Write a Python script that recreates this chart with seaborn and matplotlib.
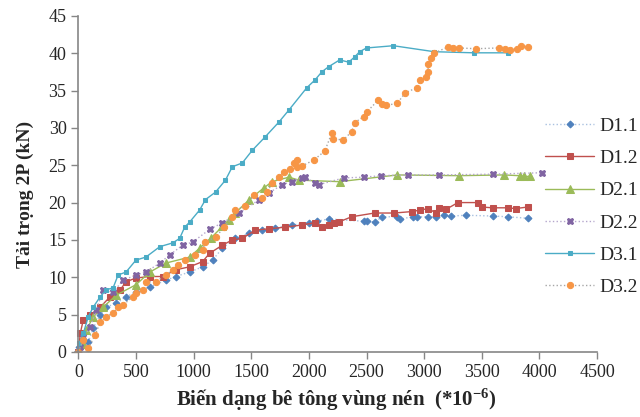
import matplotlib
matplotlib.use("Agg")
import matplotlib.pyplot as plt
import seaborn as sns
import pandas as pd

# strain (*10^-6) and load 2P (kN)
d11_x = [0, 9, 86, 129, 190, 241, 328, 414, 500, 621, 759, 845, 966, 1078, 1164, 1250, 1362, 1483,
         1595, 1707, 1853, 2000, 2069, 2172, 2474, 2500, 2569, 2638, 2767, 2793, 2905, 2940, 3034,
         3103, 3172, 3233, 3362, 3595, 3724, 3897]
d11_y = [0, 0.7, 1.3, 3.2, 5.0, 6.0, 6.5, 7.4, 8.0, 8.7, 9.6, 10.1, 10.7, 11.4, 12.3, 13.9, 15.2, 15.9,
         16.3, 16.6, 17.0, 17.3, 17.5, 17.8, 17.5, 17.5, 17.4, 18.1, 18.1, 17.8, 18.1, 18.1, 18.1,
         18.1, 18.3, 18.2, 18.3, 18.2, 18.1, 17.9]

d12_x = [0, 17, 43, 103, 190, 276, 362, 414, 500, 621, 733, 845, 966, 1078, 1138, 1250, 1336, 1422,
         1534, 1655, 1793, 1940, 2052, 2112, 2172, 2216, 2259, 2371, 2569, 2741, 2897, 2966, 3034,
         3103, 3129, 3190, 3293, 3466, 3500, 3595, 3724, 3793, 3897]
d12_y = [0, 2.5, 4.3, 4.9, 6.0, 7.4, 8.3, 9.4, 9.9, 10.1, 10.1, 11.0, 11.4, 12.1, 13.2, 14.3, 15.0, 15.2,
         16.3, 16.5, 16.7, 17.0, 17.3, 16.7, 17.0, 17.3, 17.4, 18.1, 18.6, 18.6, 18.8, 19.0, 19.2,
         18.6, 19.3, 19.1, 20.0, 20.0, 19.4, 19.3, 19.3, 19.2, 19.4]

d21_x = [0, 43, 69, 129, 216, 328, 500, 621, 759, 966, 1052, 1147, 1250, 1310, 1362, 1483, 1612, 1681,
         1827, 1914, 2267, 2767, 3302, 3690, 3828, 3862, 3922]
d21_y = [0, 1.0, 2.9, 4.7, 6.0, 7.6, 9.0, 10.7, 11.9, 12.7, 13.9, 15.2, 16.8, 17.7, 18.6, 20.4, 22.0, 22.8,
         23.4, 23.0, 22.8, 23.7, 23.6, 23.7, 23.6, 23.5, 23.5]

d22_x = [0, 17, 43, 103, 155, 216, 302, 388, 500, 586, 707, 793, 905, 991, 1138, 1250, 1397, 1569,
         1655, 1767, 1853, 1940, 1966, 2052, 2086, 2302, 2474, 2629, 2862, 3129, 3595, 4026]
d22_y = [0, 0.7, 2.0, 3.3, 5.6, 8.3, 8.0, 9.6, 10.3, 10.7, 11.9, 13.0, 14.3, 14.7, 16.4, 17.3, 18.6, 20.4,
         21.3, 22.4, 22.8, 23.3, 23.4, 22.6, 22.4, 23.3, 23.4, 23.6, 23.7, 23.7, 23.8, 24.0]

d31_x = [0, 9, 43, 86, 129, 190, 241, 302, 345, 414, 500, 586, 707, 819, 879, 922, 966, 1052, 1103,
         1190, 1276, 1336, 1422, 1509, 1621, 1741, 1827, 1983, 2052, 2112, 2172, 2267, 2345, 2397,
         2440, 2500, 2733, 3086, 3431, 3724]
d31_y = [0, 1.2, 2.5, 4.7, 6.0, 7.4, 8.3, 8.6, 10.3, 10.7, 12.3, 12.7, 14.1, 14.6, 15.2, 16.7, 17.4, 19.0, 20.4,
         21.4, 23.0, 24.8, 25.3, 27.0, 28.8, 30.8, 32.4, 35.4, 36.4, 37.5, 38.2, 39.1, 38.8, 39.5,
         40.2, 40.7, 41.0, 40.2, 40.05, 40.05]

d32_x = [0, 43, 86, 146, 190, 241, 302, 345, 388, 474, 500, 560, 586, 672, 759, 819, 862, 922, 1009,
         1078, 1103, 1190, 1267, 1336, 1362, 1448, 1526, 1595, 1638, 1681, 1741, 1784, 1836, 1871,
         1897, 1897, 1940, 2043, 2138, 2198, 2207, 2300, 2371, 2397, 2474, 2500, 2600, 2630, 2670,
         2767, 2836, 2940, 2966, 3017, 3034, 3034, 3060, 3086, 3207, 3250, 3302, 3448, 3647, 3698,
         3741, 3802, 3836, 3897]
d32_y = [0, 1.6, 0.5, 2.3, 4.0, 4.7, 5.2, 6.0, 6.3, 7.4, 7.9, 8.3, 9.4, 9.4, 10.3, 11.0, 11.7, 12.3, 13.0,
         13.7, 14.7, 15.4, 16.7, 18.1, 19.0, 19.6, 21.0, 20.6, 21.4, 22.6, 23.4, 24.1, 24.5, 25.3,
         25.7, 24.8, 24.9, 25.7, 26.9, 29.3, 28.5, 28.4, 29.5, 30.7, 31.5, 32.1, 33.7, 33.2, 33.0,
         33.3, 34.7, 35.4, 36.4, 36.8, 37.5, 38.5, 39.4, 40.0, 40.85, 40.7, 40.7, 40.6, 40.7, 40.6,
         40.45, 40.6, 41.0, 40.85]

x_ticks = [0, 500, 1000, 1500, 2000, 2500, 3000, 3500, 4000, 4500]
y_ticks = [0, 5, 10, 15, 20, 25, 30, 35, 40, 45]

sns.set_style("white")
plt.rcParams["font.family"] = ["Liberation Serif", "DejaVu Serif"]
plt.rcParams["mathtext.fontset"] = "custom"
plt.rcParams["mathtext.rm"] = "Liberation Serif"
plt.rcParams["mathtext.bf"] = "Liberation Serif:bold"
plt.rcParams["mathtext.default"] = "bf"

fig = plt.figure(figsize=(6.4, 4.17), dpi=100)
ax = fig.add_axes([0.117, 0.156, 0.816, 0.806])

# (label, x, y, line colour, marker colour, linestyle, marker, size)
series = [
    ("D1.1", d11_x, d11_y, "#a9c1e0", "#4f81bd", ":", "D", 3.5),
    ("D1.2", d12_x, d12_y, "#c0504d", "#c0504d", "-", "s", 4.5),
    ("D2.1", d21_x, d21_y, "#9bbb59", "#9bbb59", "-", "^", 5.5),
    ("D2.2", d22_x, d22_y, "#b5a6cc", "#8064a2", ":", "X", 4.5),
    ("D3.1", d31_x, d31_y, "#4bacc6", "#4bacc6", "-", "s", 3.5),
    ("D3.2", d32_x, d32_y, "#a6a6a6", "#f79646", ":", "o", 4.5),
]

for name, xs, ys, lc, mc, ls, mk, ms in series:
    df = pd.DataFrame({"x": xs, "y": ys})
    sns.lineplot(data=df, x="x", y="y", sort=False, estimator=None, ax=ax,
                 color=lc, linestyle=ls, linewidth=1.0, marker=mk, markersize=ms,
                 markerfacecolor=mc, markeredgecolor=mc, label=name)

ax.set_xlim(-30, 4500)
ax.set_ylim(0, 45)
ax.set_xticks(x_ticks)
ax.set_yticks(y_ticks)
ax.tick_params(labelsize=13, direction="out", length=5, width=1, color="#868686",
               left=True, bottom=True)
for side in ["top", "right"]:
    ax.spines[side].set_visible(False)
for side in ["left", "bottom"]:
    ax.spines[side].set_color("#868686")
    ax.spines[side].set_linewidth(1.2)
ax.spines["left"].set_position(("data", 0))

ax.set_ylabel("Tải trọng 2P (kN)", fontsize=14, fontweight="bold")
ax.yaxis.set_label_coords(-0.078, 0.47)
ax.set_xlabel("Biến dạng bê tông vùng nén  (*10$^{-6}$)", fontsize=15, fontweight="bold", labelpad=4)

ax.legend_.remove()
handles, labels = ax.get_legend_handles_labels()
fig.legend(handles, labels, loc="upper left", bbox_to_anchor=(0.837, 0.742), frameon=False,
           fontsize=14, handlelength=2.5, handletextpad=0.3, labelspacing=0.75, borderpad=0)

fig.savefig("out.png", dpi=100)
